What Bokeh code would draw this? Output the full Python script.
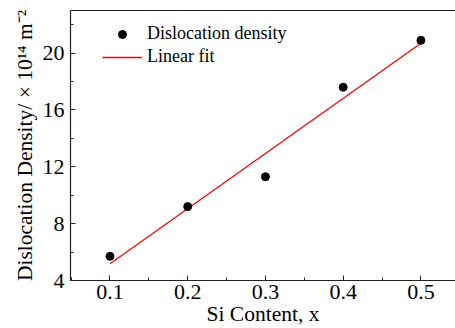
import numpy as np
from bokeh.plotting import figure
from bokeh.models import Range1d, LinearAxis, SingleIntervalTicker, Legend, LegendItem, FixedTicker
from bokeh.embed import file_html
from bokeh.resources import INLINE

si_content = [0.1, 0.2, 0.3, 0.4, 0.5]
dislocation_density = [5.7, 9.2, 11.3, 17.6, 20.9]

slope, intercept = np.polyfit(si_content, dislocation_density, 1)
fit_x = [si_content[0], si_content[-1]]
fit_y = [slope * v + intercept for v in fit_x]

FONT = "Liberation Serif"

p = figure(width=455, height=328, output_backend="svg", toolbar_location=None,
           x_range=Range1d(0.0492, 0.5445), y_range=Range1d(4, 23),
           min_border_left=70, min_border_right=0, min_border_top=10, min_border_bottom=47,
           outline_line_color=None, background_fill_color="white", border_fill_color="white")
p.xgrid.visible = False
p.ygrid.visible = False

fit = p.line(fit_x, fit_y, line_color="#ff0000", line_width=1.3)
pts = p.scatter(si_content, dislocation_density, size=8, marker="circle",
                fill_color="black", line_color="black")

for ax in (p.xaxis[0], p.yaxis[0]):
    ax.axis_line_color = "#222222"
    ax.axis_line_width = 1.2
    ax.major_tick_in = 5
    ax.major_tick_out = 0
    ax.minor_tick_in = 3
    ax.minor_tick_out = 0
    ax.major_tick_line_color = "#222222"
    ax.minor_tick_line_color = "#222222"
    ax.major_label_text_font = FONT
    ax.major_label_text_font_size = "22px"
    ax.major_label_text_color = "black"
    ax.axis_label_text_font = FONT
    ax.axis_label_text_font_size = "21.5px"
    ax.axis_label_text_font_style = "normal"
    ax.axis_label_text_color = "black"

p.xaxis[0].ticker = SingleIntervalTicker(interval=0.1, num_minor_ticks=2)
p.yaxis[0].ticker = SingleIntervalTicker(interval=4, num_minor_ticks=2)
p.xaxis[0].axis_label = "Si Content, x"
p.yaxis[0].axis_label = "Dislocation Density/ \u00d7 10\u00b9\u2074 m\u207b\u00b2"
p.xaxis[0].major_label_standoff = 4
p.xaxis[0].axis_label_standoff = 0
p.yaxis[0].major_label_standoff = 6
p.yaxis[0].axis_label_standoff = 3

top = LinearAxis(ticker=FixedTicker(ticks=[]), axis_line_color="#222222", axis_line_width=1.2,
                 major_tick_line_color=None, minor_tick_line_color=None,
                 major_label_text_font_size="0px", major_label_standoff=0)
p.add_layout(top, "above")

legend = Legend(items=[LegendItem(label="Dislocation density", renderers=[pts]),
                       LegendItem(label="Linear fit", renderers=[fit])],
                location=(32, 213), border_line_color=None, background_fill_alpha=0,
                padding=0, margin=0, spacing=2, glyph_width=40, glyph_height=20,
                label_height=20, label_standoff=5,
                label_text_font=FONT, label_text_font_size="18px", label_text_color="black")
p.add_layout(legend, "center")

open("out.html", "w").write(file_html(p, INLINE))
